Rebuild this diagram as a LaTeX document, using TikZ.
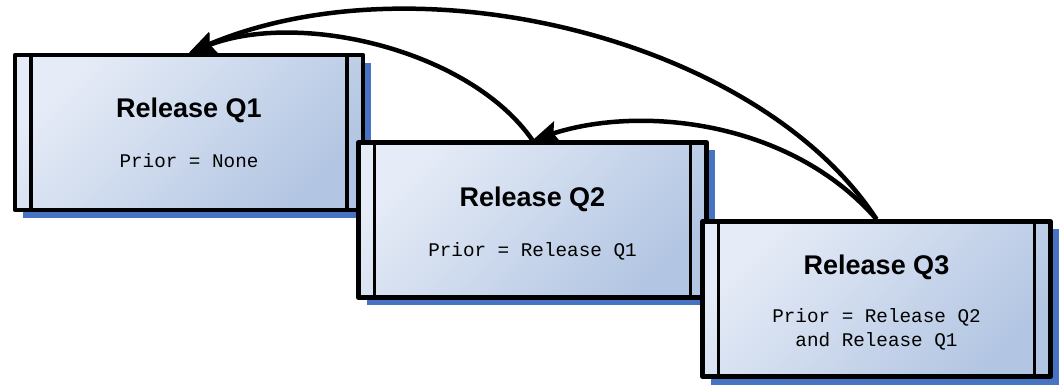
\documentclass[tikz,border=0pt]{standalone}
\usepackage{fontspec}
\setmainfont{Liberation Sans}
\setmonofont{Liberation Mono}
\usetikzlibrary{arrows.meta,shadows}
\definecolor{relLight}{HTML}{E6ECF7}
\definecolor{relDark}{HTML}{B2C5E2}
\definecolor{relShadow}{HTML}{4674C2}
\newcommand{\reltitle}[1]{{\rmfamily\bfseries\fontsize{27}{30}\selectfont #1}}
\tikzset{
	release/.style={draw, line width=4.5pt, line join=round,
		minimum width=348pt, minimum height=155pt, inner sep=0pt,
		top color=relLight, bottom color=relDark, shading angle=45,
		general shadow={fill=relShadow, shadow xshift=8pt, shadow yshift=-8pt},
		align=center, font=\fontsize{19.3}{24}\selectfont\ttfamily,
		path picture={
			\draw[line width=3.5pt] ([xshift=16pt]path picture bounding box.north west) -- ([xshift=16pt]path picture bounding box.south west);
			\draw[line width=3.5pt] ([xshift=-16pt]path picture bounding box.north east) -- ([xshift=-16pt]path picture bounding box.south east);
		}},
	dep/.style={line width=4.5pt, -{Stealth[length=26pt,width=22pt,inset=4pt]}}
}
\begin{document}
\begin{tikzpicture}[x=1pt,y=-1pt]
			%%%%% BOXES %%%%%
			\useasboundingbox (0,0) rectangle (1063,387);
			
			\node[release] (q1) at (189,132.5) {\reltitle{Release Q1}\\[26pt]Prior = None};
			\node[release] (q2) at (532.5,220) {\rule{0pt}{26pt}\reltitle{Release Q2}\\[26pt]Prior = Release Q1};
			\node[release] (q3) at (876.5,299) {\rule{0pt}{26pt}\reltitle{Release Q3}\\[24pt]Prior = Release Q2\\and Release Q1};
			
			%%%%% PRIOR LINKS %%%%%
			\draw[dep] (q3.north) .. controls (760,40) and (420,-45) .. (q1.north);
			\draw[dep] (q2.north) .. controls (470,50) and (300,10) .. (q1.north);
			\draw[dep] (q3.north) .. controls (790,120) and (640,105) .. (q2.north);
		\end{tikzpicture}
\end{document}
